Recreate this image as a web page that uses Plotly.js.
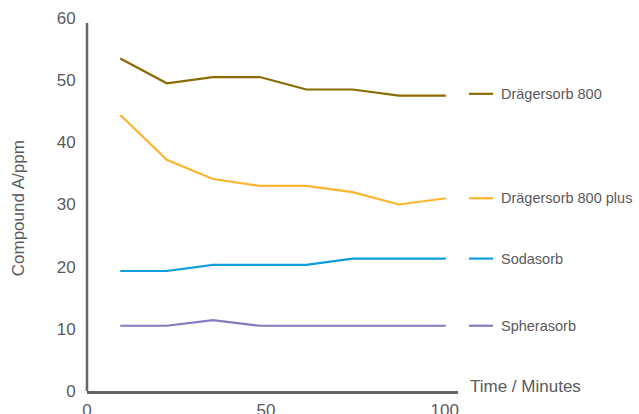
<!DOCTYPE html>
<html>
<head>
<meta charset="utf-8">
<script src="https://cdn.plot.ly/plotly-3.0.1.min.js"></script>
<style>html,body{margin:0;padding:0;background:#fff;}#chart{width:639px;height:414px;}</style>
</head>
<body>
<div id="chart"></div>
<script>
// Data
var timeMinutes = [9.3, 22.3, 35.2, 48.3, 61.3, 74.2, 87.2, 100.3];
var seriesNames = ["Drägersorb 800", "Drägersorb 800 plus", "Sodasorb", "Spherasorb"];
var draeger800 = [53.5, 49.5, 50.5, 50.5, 48.5, 48.5, 47.5, 47.5];
var draeger800plus = [44.4, 37.2, 34.1, 33.0, 33.0, 32.0, 30.0, 31.0];
var sodasorb = [19.3, 19.3, 20.3, 20.3, 20.3, 21.3, 21.3, 21.3];
var spherasorb = [10.5, 10.5, 11.4, 10.5, 10.5, 10.5, 10.5, 10.5];
var xTicks = [0, 50, 100];
var yTicks = [0, 10, 20, 30, 40, 50, 60];

var colors = ["#8b6a00", "#fdb52e", "#0a9ee0", "#8878c0"];
var allSeries = [draeger800, draeger800plus, sodasorb, spherasorb];
var textColor = "#5a5a5c";
var font = "Liberation Sans, Arial, sans-serif";

var traces = allSeries.map(function (vals, i) {
  return {
    x: timeMinutes, y: vals, type: "scatter", mode: "lines",
    name: seriesNames[i], line: {color: colors[i], width: 2.2},
    hoverinfo: "skip"
  };
});

// Legend drawn at the right, aligned to each series' last value
var legendY = allSeries.map(function (v) { return v[v.length - 1]; });
legendY[0] += 0.3;
var shapes = [];
var annotations = [];
legendY.forEach(function (yv, i) {
  shapes.push({type: "line", xref: "paper", yref: "y", x0: 1.0296, x1: 1.0943, y0: yv, y1: yv,
    line: {color: colors[i], width: 2.2}});
  annotations.push({xref: "paper", yref: "y", x: 1.11, y: yv, xanchor: "left", yanchor: "middle",
    text: seriesNames[i], showarrow: false, font: {family: font, size: 14.5, color: textColor}});
});
// y axis line (stops a little below 60)
shapes.push({type: "line", xref: "paper", yref: "y", x0: 0, x1: 0, y0: 0, y1: 59.2,
  line: {color: "#666666", width: 2.5}});
// x axis title
annotations.push({xref: "paper", yref: "y", x: 1.027, y: 0, xanchor: "left", yanchor: "middle", yshift: 5,
  text: "Time / Minutes", showarrow: false, font: {family: font, size: 17, color: textColor}});
// y axis title
annotations.push({xref: "paper", yref: "paper", x: -0.186, y: 0.49, xanchor: "center", yanchor: "middle",
  textangle: -90, text: "Compound A/ppm", showarrow: false, font: {family: font, size: 17, color: textColor}});

var layout = {
  width: 639, height: 414,
  margin: {l: 87, r: 181, t: 18, b: 23},
  paper_bgcolor: "#ffffff", plot_bgcolor: "#ffffff",
  showlegend: false,
  font: {family: font, color: textColor},
  xaxis: {
    range: [0, 103.7], tickvals: xTicks, showgrid: false, zeroline: false,
    showline: true, linecolor: "#666666", linewidth: 2.5,
    ticks: "outside", ticklen: 2, tickcolor: "rgba(0,0,0,0)",
    tickfont: {family: font, size: 17, color: textColor}
  },
  yaxis: {
    range: [0, 60], tickvals: yTicks, showgrid: false, zeroline: false,
    showline: false,
    ticks: "outside", ticklen: 7, tickcolor: "rgba(0,0,0,0)",
    tickfont: {family: font, size: 17, color: textColor}
  },
  shapes: shapes,
  annotations: annotations
};

Plotly.newPlot("chart", traces, layout, {displayModeBar: false, staticPlot: true});
</script>
</body>
</html>
